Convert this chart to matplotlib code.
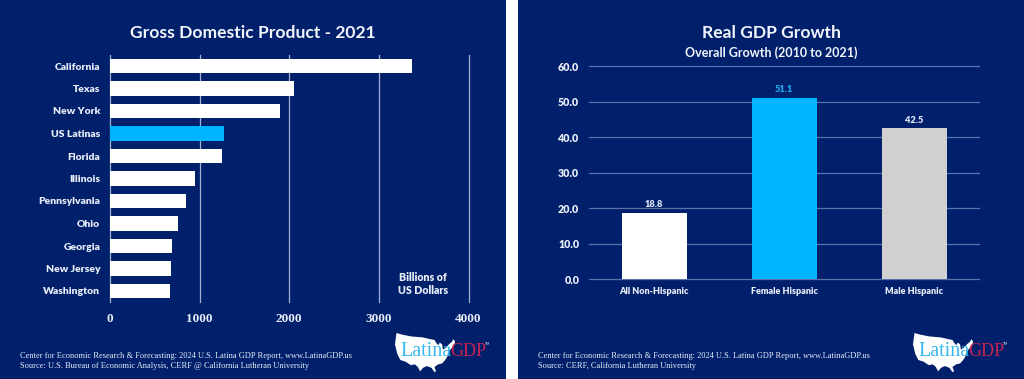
#!/usr/bin/env python3
# two panel GDP slide: bars on the left, growth columns on the right
import matplotlib
matplotlib.use('Agg')
import matplotlib.pyplot as plt

W = 1024
H = 379
NAVY = '#00206b'
BLUE = '#00b4ff'
GREY = '#d0d0d0'
WHITE = '#ffffff'
TXT = '#e8edf8'

states = ['California', 'Texas', 'New York', 'US Latinas', 'Florida', 'Illinois',
          'Pennsylvania', 'Ohio', 'Georgia', 'New Jersey', 'Washington']
gdp = [3375, 2053, 1901, 1269, 1254, 945, 845, 760, 695, 685, 675]
gdp_colors = [WHITE, WHITE, WHITE, BLUE, WHITE, WHITE, WHITE, WHITE, WHITE, WHITE, WHITE]
gdp_ticks = [0, 1000, 2000, 3000, 4000]

groups = ['All Non-Hispanic', 'Female Hispanic', 'Male Hispanic']
growth = [18.8, 51.1, 42.5]
growth_colors = [WHITE, BLUE, GREY]
growth_label_colors = ['#dfe6f5', '#1fa8ea', '#dfe6f5']
growth_ticks = [0, 10, 20, 30, 40, 50, 60]

plt.rcParams['font.family'] = ['Lato', 'DejaVu Sans']
SERIF = ['Liberation Serif', 'DejaVu Serif']

fig = plt.figure(figsize=(W / 100, H / 100), dpi=100, facecolor=WHITE)


def box(x0, y0, x1, y1):
    # pixels from the top left -> figure fractions
    return [x0 / W, 1 - y1 / H, (x1 - x0) / W, (y1 - y0) / H]


# backdrop in pixel coordinates
bg = fig.add_axes([0, 0, 1, 1], zorder=0)
bg.set_xlim(0, W)
bg.set_ylim(H, 0)
bg.axis('off')
bg.fill_between([0, 506], 0, H, color=NAVY, lw=0)
bg.fill_between([518, W], 0, H, color=NAVY, lw=0)

# left chart
ax = fig.add_axes(box(110, 54.75, 468.5, 302.25), zorder=1)
ax.patch.set_alpha(0)
ax.barh(states, gdp, height=0.65, color=gdp_colors, zorder=3)
ax.set_xlim(0, 4000)
ax.set_ylim(len(states) - 0.5, -0.5)
ax.set_xticks(gdp_ticks)
ax.set_xticklabels([str(v) for v in gdp_ticks], family=SERIF, fontweight='bold', fontsize=9.5, color=TXT)
ax.set_yticks(range(len(states)))
ax.set_yticklabels(states, fontweight='heavy', fontsize=7.5, color=TXT)
ax.grid(axis='x', color='#a3b0d2', lw=0.9, zorder=1)
for ln in ax.get_xgridlines():
    ln.set_clip_on(False)
for s in ax.spines.values():
    s.set_visible(False)
ax.tick_params(axis='y', length=0, pad=7)
ax.tick_params(axis='x', length=0, pad=7.5)
bg.text(423, 284, 'Billions of\nUS Dollars', color=TXT, fontsize=7.7, fontweight='heavy',
        ha='center', va='center', linespacing=1.3)

# right chart
ax2 = fig.add_axes(box(589, 66.3, 979, 279.3), zorder=1)
ax2.patch.set_alpha(0)
ax2.bar(groups, growth, width=0.5, color=growth_colors, zorder=3)
ax2.set_xlim(-0.5, 2.5)
ax2.set_ylim(0, 60)
ax2.set_yticks(growth_ticks)
ax2.set_yticklabels(['%.1f' % v for v in growth_ticks], fontweight='heavy', fontsize=7.7, color=TXT)
ax2.set_xticks(range(len(groups)))
ax2.set_xticklabels(groups, fontweight='heavy', fontsize=6.5, color=TXT)
ax2.grid(axis='y', color='#5a70ab', lw=0.9, zorder=1)
for ln in ax2.get_ygridlines():
    ln.set_clip_on(False)
for s in ax2.spines.values():
    s.set_visible(False)
ax2.tick_params(axis='y', length=0, pad=7)
ax2.tick_params(axis='x', length=0, pad=5.5)
for i, v in enumerate(growth):
    ax2.annotate('%.1f' % v, (i, v), xytext=(0, 2.5), textcoords='offset points', ha='center', va='bottom',
                 color=growth_label_colors[i], fontsize=6.7, fontweight='heavy')

# titles
bg.text(252.5, 33, 'Gross Domestic Product - 2021', color='#f2f5fc', fontsize=12.6, fontweight='bold',
        ha='center', va='center')
bg.text(771, 33, 'Real GDP Growth', color='#f2f5fc', fontsize=12.6, fontweight='bold', ha='center', va='center')
bg.text(771, 53, 'Overall Growth (2010 to 2021)', color='#f2f5fc', fontsize=9, fontweight='bold',
        ha='center', va='center')

# footers
foot = 'Center for Economic Research & Forecasting: 2024 U.S. Latina GDP Report, www.LatinaGDP.us'
bg.text(20, 356, foot, family=SERIF, color=TXT, fontsize=6.0, va='center')
bg.text(20, 365.5, 'Source: U.S. Bureau of Economic Analysis, CERF @ California Lutheran University',
        family=SERIF, color=TXT, fontsize=6.0, va='center')
bg.text(538, 356, foot, family=SERIF, color=TXT, fontsize=6.0, va='center')
bg.text(538, 365.5, 'Source: CERF, California Lutheran University', family=SERIF, color=TXT,
        fontsize=6.0, va='center')

# logo, rough US outline behind the text
usa = [(0, 0), (8, 2), (20, 4), (34, 5), (44, 7), (50, 8), (52, 11), (55, 14), (57, 11), (60, 13), (61, 19),
       (65, 17), (69, 13), (73, 10), (75, 7), (77, 10), (76, 14), (72, 18), (68, 22), (67, 27), (64, 31),
       (60, 35), (55, 36), (50, 39), (52, 44), (50, 45), (46, 40), (40, 38), (35, 40), (31, 44), (28, 39),
       (24, 36), (19, 37), (12, 33), (5, 31), (1, 24), (-2, 13)]


def logo(x0, y0):
    bg.fill([x0 + p[0] * 0.76 for p in usa], [y0 + p[1] * 0.87 for p in usa], color=WHITE, lw=0, zorder=2)
    bg.text(x0 + 3.5, y0 + 19, 'Latina', family=SERIF, color='#35b8ee', fontsize=14.5, va='center', zorder=3)
    bg.text(x0 + 53.5, y0 + 19, 'GDP', family=SERIF, color='#c9234f', fontsize=13, va='center', zorder=3)
    bg.text(x0 + 88.5, y0 + 11, 'TM', color='#d8dde8', fontsize=2.5, va='center', zorder=3)


logo(396.5, 333)
logo(914.5, 333)

fig.savefig('out.png', dpi=100, facecolor=WHITE)
